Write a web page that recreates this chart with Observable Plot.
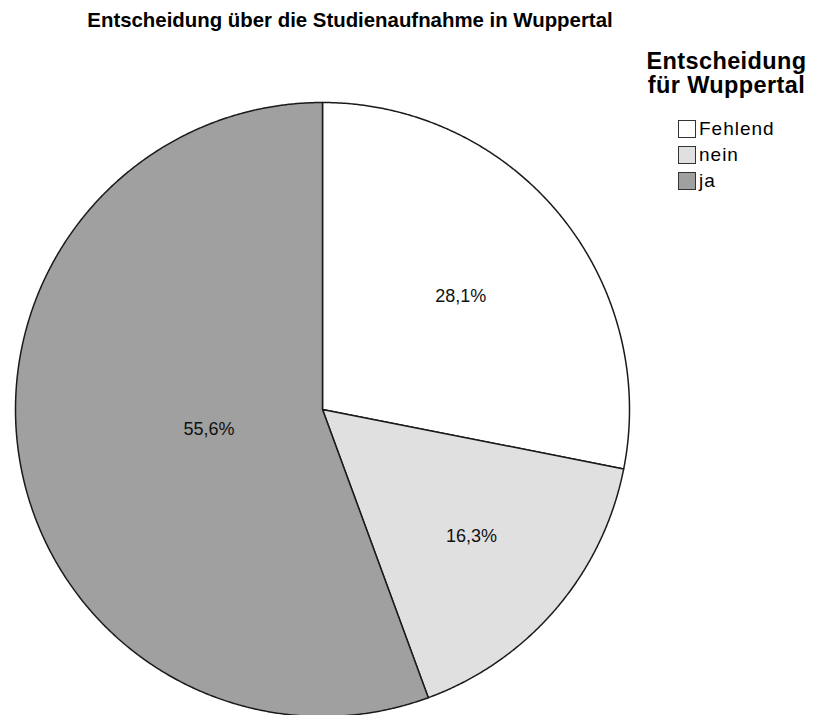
<!DOCTYPE html>
<html><head><meta charset="utf-8">
<script src="https://cdn.jsdelivr.net/npm/d3@7"></script>
<script src="https://cdn.jsdelivr.net/npm/@observablehq/plot@0.6"></script>
<style>
body{margin:0;background:#fff;font-family:"Liberation Sans",Arial,sans-serif;color:#000;}
#wrap{position:relative;width:823px;height:715px;overflow:hidden;}
#chart{position:absolute;left:0;top:0;}
#title{position:absolute;left:0;width:700px;top:8px;text-align:center;font-weight:bold;font-size:20.4px;line-height:25px;}
#legend-title{position:absolute;left:630px;width:193px;top:49px;text-align:center;font-weight:bold;font-size:23.5px;line-height:24px;letter-spacing:0.4px;}
#legend{position:absolute;left:678px;top:116px;}
.item{display:flex;align-items:center;height:26px;font-size:19px;letter-spacing:1px;}
.sw{width:18px;height:18px;border:1.5px solid #333;box-sizing:border-box;margin-right:3px;}
</style></head>
<body>
<div id="wrap">
  <div id="chart"></div>
  <div id="title">Entscheidung über die Studienaufnahme in Wuppertal</div>
  <div id="legend-title">Entscheidung<br>für Wuppertal</div>
  <div id="legend"></div>
</div>
<script>
const categories = ["Fehlend", "nein", "ja"];
const percents = [28.1, 16.3, 55.6];
const labels = ["28,1%", "16,3%", "55,6%"];
const fills = ["#ffffff", "#e0e0e0", "#a0a0a0"];

const arcs = d3.pie().sort(null).value(d => d).startAngle(0).endAngle(2 * Math.PI)(percents);

const slicePts = [];
const labelPts = [];
arcs.forEach((a, i) => {
  const cat = categories[i];
  slicePts.push({cat, x: 0, y: 0});
  const n = Math.ceil((a.endAngle - a.startAngle) / 0.005);
  for (let k = 0; k <= n; k++) {
    const t = a.startAngle + (a.endAngle - a.startAngle) * k / n;
    slicePts.push({cat, x: Math.sin(t), y: Math.cos(t)});
  }
  const th = a.endAngle - a.startAngle;
  const mid = (a.startAngle + a.endAngle) / 2;
  const d = 4 * Math.sin(th / 2) / (3 * th);
  labelPts.push({label: labels[i], x: d * Math.sin(mid), y: d * Math.cos(mid)});
});

const chart = Plot.plot({
  width: 823,
  height: 715,
  margin: 0,
  x: {domain: [-1, 1], range: [15, 629], axis: null},
  y: {domain: [-1, 1], range: [716, 102], axis: null},
  color: {domain: categories, range: fills},
  style: {background: "transparent", overflow: "visible"},
  marks: [
    Plot.line(slicePts, {x: "x", y: "y", z: "cat", fill: "cat", stroke: "#1a1a1a", strokeWidth: 1.5, curve: "linear-closed", strokeLinejoin: "round"}),
    Plot.text(labelPts, {x: "x", y: "y", text: "label", fontSize: 18, fill: "#111", fontFamily: "Liberation Sans, Arial, sans-serif"})
  ]
});
document.getElementById("chart").appendChild(chart);

const leg = document.getElementById("legend");
categories.forEach((c, i) => {
  const row = document.createElement("div");
  row.className = "item";
  const sw = document.createElement("div");
  sw.className = "sw";
  sw.style.background = fills[i];
  const tx = document.createElement("span");
  tx.textContent = c;
  row.appendChild(sw); row.appendChild(tx);
  leg.appendChild(row);
});
</script>
</body></html>
